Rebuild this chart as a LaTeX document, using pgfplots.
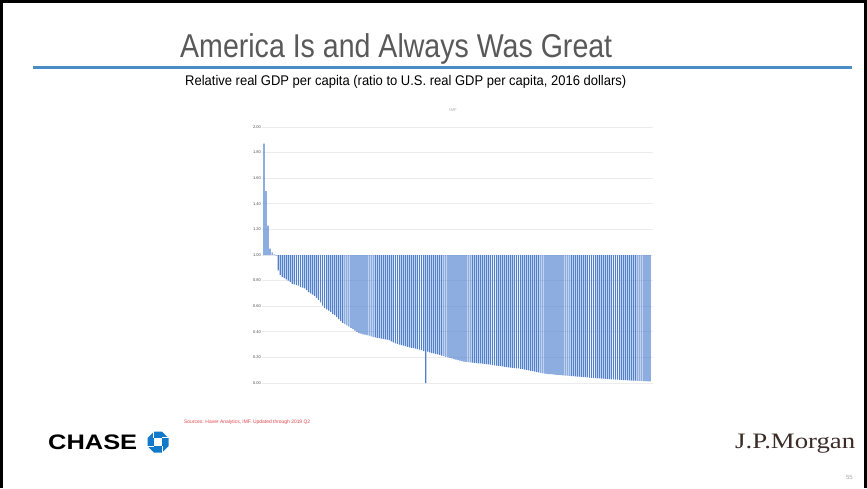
\documentclass[border=0pt]{standalone}
\usepackage{pgfplots}
\pgfplotsset{compat=1.18}
\usepackage{graphicx}
\usepackage{fontspec}
\setmainfont{Liberation Sans}
\newfontfamily\serifjp{Liberation Serif}
\definecolor{titlegrey}{HTML}{595959}
\definecolor{rule}{HTML}{4A8CC4}
\definecolor{barblue}{RGB}{80,128,206}
\definecolor{chaseblue}{HTML}{117ACA}
\definecolor{srcred}{HTML}{E0454A}
\definecolor{jpm}{HTML}{3A2C26}
\begin{document}
\begin{tikzpicture}[x=1pt,y=1pt]
\useasboundingbox (0,0) rectangle (867,-488);
\fill[white] (0,0) rectangle (867,-488);
% frame
\draw[black, line width=3pt] (1.5,-488) -- (1.5,-1.5) -- (865.5,-1.5) -- (865.5,-488);
% title
\node[anchor=base west, inner sep=0pt, text=titlegrey] at (180,-57)
  {\resizebox{432pt}{\height}{\fontsize{33}{33}\selectfont America Is and Always Was Great}};
\fill[rule] (33,-65.5) rectangle (852,-69);
\node[anchor=base west, inner sep=0pt, text=black] at (185,-85)
  {\resizebox{441pt}{\height}{\fontsize{14}{14}\selectfont Relative real GDP per capita (ratio to U.S. real GDP per capita, 2016 dollars)}};
% chart title
\node[anchor=base, inner sep=0pt, text=gray!65] at (453,-111) {\fontsize{4.2}{4.2}\selectfont IMF};
\begin{axis}[
  at={(262pt,-383pt)}, anchor=south west,
  scale only axis, width=391pt, height=256pt,
  xmin=-1, xmax=192.5, ymin=-1, ymax=1,
  axis line style={draw=none},
  major tick style={draw=none},
  xtick=\empty,
  ytick={-1,-0.8,-0.6,-0.4,-0.2,0,0.2,0.4,0.6,0.8,1},
  yticklabels={0.00,0.20,0.40,0.60,0.80,1.00,1.20,1.40,1.60,1.80,2.00},
  yticklabel style={font=\fontsize{4}{4}\selectfont, text=gray!60!black, inner sep=1pt},
  ymajorgrids, grid style={draw=gray!15, line width=0.7pt},
  clip=false,
]
\addplot[ybar, bar width=1.2pt, draw=none, fill=barblue, y filter/.expression={y-1}] coordinates {
(0,1.87) (1,1.50) (2,1.23) (3,1.05) (4,1.02) (5,1.005) (6,0.995) (7,0.88) (8,0.845) (9,0.83)
(10,0.82) (11,0.81) (12,0.80) (13,0.79) (14,0.775) (15,0.77) (16,0.765) (17,0.76) (18,0.75) (19,0.745)
(20,0.74) (21,0.725) (22,0.71) (23,0.70) (24,0.69) (25,0.68) (26,0.665) (27,0.65) (28,0.63) (29,0.605)
(30,0.585) (31,0.575) (32,0.565) (33,0.555) (34,0.54) (35,0.53) (36,0.515) (37,0.50) (38,0.485) (39,0.47)
(40,0.46) (41,0.45) (42,0.44) (43,0.43) (44,0.42) (45,0.41) (46,0.40) (47,0.39) (48,0.385) (49,0.38)
(50,0.378) (51,0.375) (52,0.37) (53,0.365) (54,0.36) (55,0.357) (56,0.353) (57,0.35) (58,0.347) (59,0.344)
(60,0.341) (61,0.338) (62,0.335) (63,0.325) (64,0.318) (65,0.31) (66,0.305) (67,0.30) (68,0.296) (69,0.292)
(70,0.288) (71,0.283) (72,0.279) (73,0.275) (74,0.272) (75,0.268) (76,0.264) (77,0.26) (78,0.256) (79,0.25)
(80,0.0) (81,0.245) (82,0.24) (83,0.236) (84,0.232) (85,0.228) (86,0.224) (87,0.219) (88,0.214) (89,0.21)
(90,0.205) (91,0.20) (92,0.196) (93,0.192) (94,0.187) (95,0.183) (96,0.178) (97,0.174) (98,0.17) (99,0.168)
(100,0.166) (101,0.164) (102,0.162) (103,0.16) (104,0.158) (105,0.156) (106,0.154) (107,0.153) (108,0.151) (109,0.149)
(110,0.147) (111,0.145) (112,0.143) (113,0.14) (114,0.137) (115,0.135) (116,0.133) (117,0.131) (118,0.129) (119,0.127)
(120,0.125) (121,0.123) (122,0.121) (123,0.119) (124,0.117) (125,0.115) (126,0.114) (127,0.111) (128,0.108) (129,0.105)
(130,0.102) (131,0.098) (132,0.095) (133,0.092) (134,0.089) (135,0.086) (136,0.083) (137,0.079) (138,0.075) (139,0.073)
(140,0.072) (141,0.070) (142,0.069) (143,0.067) (144,0.066) (145,0.064) (146,0.063) (147,0.061) (148,0.060) (149,0.058)
(150,0.057) (151,0.056) (152,0.054) (153,0.053) (154,0.051) (155,0.050) (156,0.049) (157,0.047) (158,0.046) (159,0.045)
(160,0.044) (161,0.042) (162,0.041) (163,0.040) (164,0.039) (165,0.037) (166,0.036) (167,0.035) (168,0.034) (169,0.033)
(170,0.031) (171,0.030) (172,0.029) (173,0.028) (174,0.027) (175,0.026) (176,0.025) (177,0.024) (178,0.023) (179,0.022)
(180,0.021) (181,0.020) (182,0.019) (183,0.018) (184,0.018) (185,0.017) (186,0.016) (187,0.016) (188,0.015) (189,0.014)
(190,0.013) (191,0.012)
};
\end{axis}
% sources
\node[anchor=base west, inner sep=0pt, text=srcred] at (184,-423)
  {\resizebox{126pt}{\height}{\fontsize{5}{5}\selectfont Sources: Haver Analytics, IMF. Updated through 2019 Q2}};
% CHASE
\node[anchor=base west, inner sep=0pt] at (48,-449)
  {\resizebox{89pt}{\height}{\fontsize{21}{21}\selectfont\bfseries CHASE}};
\begin{scope}[shift={(158,-442)}]
  \fill[chaseblue] (-4,10.5) -- (4,10.5) -- (10.5,4) -- (10.5,-4) -- (4,-10.5) -- (-4,-10.5) -- (-10.5,-4) -- (-10.5,4) -- cycle;
  \fill[white] (-4.2,-4.2) rectangle (4.2,4.2);
  \draw[white, line width=1.2pt] (-4.2,4.2) -- (-4.2,11) (4.2,4.2) -- (11,4.2) (4.2,-4.2) -- (4.2,-11) (-4.2,-4.2) -- (-11,-4.2);
\end{scope}
% J.P.Morgan
\node[anchor=base west, inner sep=0pt, text=jpm] at (735,-448)
  {\resizebox{120pt}{\height}{\serifjp\fontsize{22}{22}\selectfont J.P.Morgan}};
\node[anchor=base east, inner sep=0pt, text=gray!70] at (853,-479) {\fontsize{6}{6}\selectfont 55};
\end{tikzpicture}
\end{document}
